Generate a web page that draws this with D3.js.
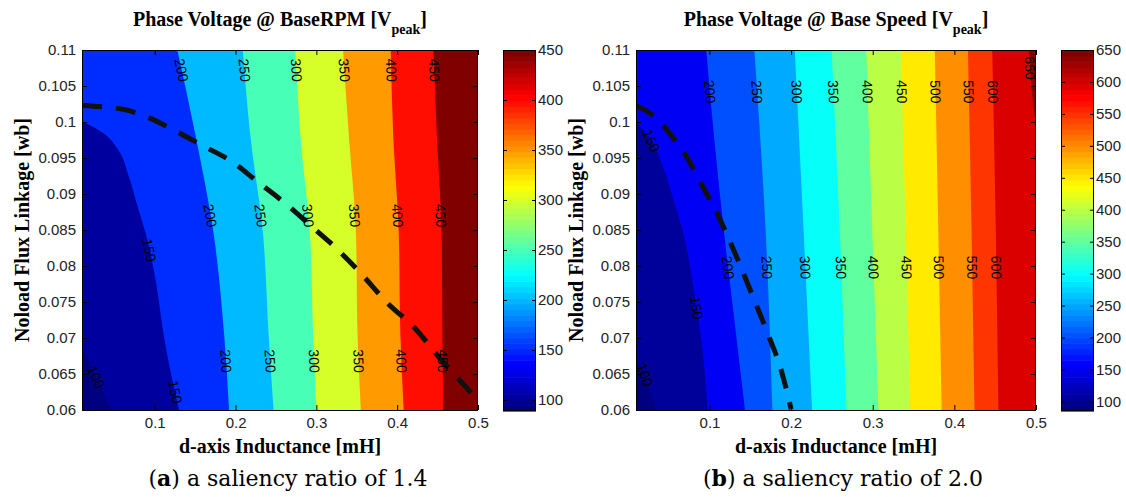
<!DOCTYPE html>
<html>
<head>
<meta charset="utf-8">
<script src="https://cdn.jsdelivr.net/npm/d3@7"></script>
<style>
  body { margin: 0; background: #fff; }
  svg { display: block; }
</style>
</head>
<body>
<svg id="fig" width="1126" height="497"></svg>
<script>
// ---- axis domains and ticks ----
const xDomain = [0.01, 0.5];          // d-axis inductance [mH]
const yDomain = [0.06, 0.11];         // no-load flux linkage [Wb]
const xTicks = [0.1, 0.2, 0.3, 0.4, 0.5];
const yTicks = [0.06, 0.065, 0.07, 0.075, 0.08, 0.085, 0.09, 0.095, 0.1, 0.105, 0.11];

// ---- panel (a): saliency ratio 1.4 ----
const levelsA = [100, 150, 200, 250, 300, 350, 400, 450];
const colorRangeA = [89, 450];
const cbTicksA = [100, 150, 200, 250, 300, 350, 400, 450];
// iso-voltage lines, each ordered from the upper/left boundary downwards: [Ld, psi]
const contoursA = [
  [[0.01, 0.0685], [0.021, 0.0662], [0.032, 0.0635], [0.040, 0.0615], [0.047, 0.06]],
  [[0.01, 0.1001], [0.037, 0.0984], [0.055, 0.0961], [0.068, 0.0924], [0.079, 0.0882], [0.090, 0.0840], [0.101, 0.0781], [0.112, 0.0698], [0.130, 0.06]],
  [[0.128, 0.11], [0.150, 0.0984], [0.173, 0.0844], [0.186, 0.0703], [0.192, 0.06]],
  [[0.209, 0.11], [0.218, 0.0984], [0.234, 0.0844], [0.241, 0.0703], [0.247, 0.06]],
  [[0.274, 0.11], [0.280, 0.0984], [0.292, 0.0844], [0.296, 0.0703], [0.300, 0.06]],
  [[0.333, 0.11], [0.340, 0.0984], [0.349, 0.0844], [0.351, 0.0703], [0.355, 0.06]],
  [[0.392, 0.11], [0.395, 0.0984], [0.402, 0.0844], [0.404, 0.0703], [0.408, 0.06]],
  [[0.445, 0.11], [0.449, 0.0984], [0.455, 0.0844], [0.456, 0.0703], [0.457, 0.06]]
];
// inline contour labels: [level, psi]
const labelsA = [
  [100, 0.0646], [150, 0.0822], [150, 0.0625],
  [200, 0.1072], [250, 0.1072], [300, 0.1072], [350, 0.1072], [400, 0.1072], [450, 0.1072],
  [200, 0.087], [250, 0.087], [300, 0.087], [350, 0.087], [400, 0.087], [450, 0.087],
  [200, 0.0668], [250, 0.0668], [300, 0.0668], [350, 0.0668], [400, 0.0668], [450, 0.0668]
];
// voltage-limit boundary (dashed)
const limitA = [
  [0.01, 0.1023], [0.0637, 0.1017], [0.0924, 0.1006], [0.1233, 0.0989], [0.1596, 0.0967],
  [0.1955, 0.0945], [0.2273, 0.0917], [0.2648, 0.0884], [0.3001, 0.0849], [0.3223, 0.0827],
  [0.3532, 0.0792], [0.3885, 0.0748], [0.4217, 0.0714], [0.4526, 0.0672], [0.4858, 0.0631], [0.5, 0.0613]
];

// ---- panel (b): saliency ratio 2.0 ----
const levelsB = [100, 150, 200, 250, 300, 350, 400, 450, 500, 550, 600, 650];
const colorRangeB = [85, 650];
const cbTicksB = [100, 150, 200, 250, 300, 350, 400, 450, 500, 550, 600, 650];
const contoursB = [
  [[0.01, 0.0675], [0.020, 0.0652], [0.028, 0.0625], [0.034, 0.06]],
  [[0.01, 0.1001], [0.028, 0.0976], [0.043, 0.0938], [0.056, 0.0892], [0.068, 0.0845], [0.081, 0.0767], [0.090, 0.0698], [0.098, 0.06]],
  [[0.096, 0.11], [0.106, 0.0975], [0.118, 0.0845], [0.130, 0.073], [0.1435, 0.06]],
  [[0.155, 0.11], [0.169, 0.0845], [0.177, 0.06]],
  [[0.2045, 0.11], [0.2155, 0.0845], [0.2257, 0.06]],
  [[0.2496, 0.11], [0.2597, 0.0845], [0.2677, 0.06]],
  [[0.292, 0.11], [0.2995, 0.0845], [0.307, 0.06]],
  [[0.3344, 0.11], [0.3406, 0.0845], [0.3459, 0.06]],
  [[0.376, 0.11], [0.3804, 0.0845], [0.3844, 0.06]],
  [[0.4166, 0.11], [0.4211, 0.0845], [0.4246, 0.06]],
  [[0.4464, 0.11], [0.4508, 0.0845], [0.4539, 0.06]],
  [[0.4915, 0.11], [0.4927, 0.1075], [0.4955, 0.1035], [0.5, 0.0995]]
];
const labelsB = [
  [100, 0.0649], [150, 0.0974], [150, 0.0742],
  [200, 0.1042], [250, 0.1042], [300, 0.1042], [350, 0.1042], [400, 0.1042], [450, 0.1042], [500, 0.1042], [550, 0.1042], [600, 0.1042],
  [200, 0.0798], [250, 0.0798], [300, 0.0798], [350, 0.0798], [400, 0.0798], [450, 0.0798], [500, 0.0798], [550, 0.0798], [600, 0.0798],
  [650, 0.1075]
];
const limitB = [
  [0.01, 0.1023], [0.0321, 0.1008], [0.0542, 0.0980], [0.0740, 0.0948], [0.0918, 0.0910],
  [0.1072, 0.0878], [0.1227, 0.0840], [0.1350, 0.0808], [0.1533, 0.0757],
  [0.1711, 0.0707], [0.1889, 0.0651], [0.2, 0.0601]
];

// ---- jet colormap ----
const jetStops = [0, 0.125, 0.375, 0.625, 0.875, 1];
const jetColors = ["#000080", "#0000ff", "#00ffff", "#ffff00", "#ff0000", "#800000"];
const jet = d3.scaleLinear().domain(jetStops).range(jetColors).interpolate(d3.interpolateRgb).clamp(true);

const svg = d3.select("#fig");
const SANS = "'Liberation Sans', Arial, Helvetica, sans-serif";
const SERIF = "'Liberation Serif', 'Times New Roman', serif";
const plotTop = 50, plotBottom = 410;

const panels = [
  { id: "a", left: 82, right: 478, cbLeft: 503, cbRight: 536,
    levels: levelsA, contours: contoursA, labels: labelsA, limit: limitA,
    cRange: colorRangeA, cbTicks: cbTicksA,
    title: "Phase Voltage @ BaseRPM [V", letter: "a", caption: " a saliency ratio of 1.4", capX: 288 },
  { id: "b", left: 636, right: 1036, cbLeft: 1061, cbRight: 1094,
    levels: levelsB, contours: contoursB, labels: labelsB, limit: limitB,
    cRange: colorRangeB, cbTicks: cbTicksB,
    title: "Phase Voltage @ Base Speed [V", letter: "b", caption: " a saliency ratio of 2.0", capX: 843 }
];

const fmt = d3.format("~g");

function styleAxis(sel) {
  sel.select(".domain").remove();
  sel.selectAll(".tick line").attr("stroke", "#000").attr("stroke-width", 1);
  sel.selectAll(".tick text")
    .attr("fill", "#222")
    .style("font-family", SANS)
    .style("font-size", "15px");
}

panels.forEach(p => {
  const x = d3.scaleLinear().domain(xDomain).range([p.left, p.right]);
  const y = d3.scaleLinear().domain(yDomain).range([plotBottom, plotTop]);
  const cNorm = d3.scaleLinear().domain(p.cRange).range([0, 1]).clamp(true);

  const clipId = "clip-" + p.id;
  svg.append("clipPath").attr("id", clipId)
    .append("rect")
    .attr("x", p.left).attr("y", plotTop)
    .attr("width", p.right - p.left).attr("height", plotBottom - plotTop);

  const plot = svg.append("g").attr("clip-path", `url(#${clipId})`);

  // lowest band
  plot.append("rect")
    .attr("x", p.left).attr("y", plotTop)
    .attr("width", p.right - p.left).attr("height", plotBottom - plotTop)
    .attr("fill", jet(0));

  const contourLine = d3.line()
    .x(d => x(d[0])).y(d => y(d[1]))
    .curve(d3.curveMonotoneY);

  // filled bands: each level paints the region on its high-voltage side
  p.levels.forEach((lv, i) => {
    const pts = p.contours[i];
    const start = pts[0], end = pts[pts.length - 1];
    const corners = [];
    if (end[1] <= yDomain[0] + 1e-9) corners.push([xDomain[1], yDomain[0]]);
    corners.push([xDomain[1], yDomain[1]]);
    if (start[0] <= xDomain[0] + 1e-9) corners.push([xDomain[0], yDomain[1]]);
    const d = contourLine(pts) + corners.map(c => `L${x(c[0])},${y(c[1])}`).join("") + "Z";
    plot.append("path").attr("d", d).attr("fill", jet(cNorm(lv)));
  });

  // dashed voltage-limit curve
  plot.append("path")
    .attr("d", d3.line().x(d => x(d[0])).y(d => y(d[1])).curve(d3.curveMonotoneX)(p.limit))
    .attr("fill", "none")
    .attr("stroke", "#111")
    .attr("stroke-width", 5)
    .attr("stroke-dasharray", "20,14");

  // inline contour labels
  p.labels.forEach(([lv, psi]) => {
    const pts = p.contours[p.levels.indexOf(lv)];
    let k = 0;
    while (k < pts.length - 2 && pts[k + 1][1] > psi) k++;
    const a = pts[k], b = pts[k + 1];
    const t = (a[1] - psi) / (a[1] - b[1]);
    const ld = a[0] + t * (b[0] - a[0]);
    const px = x(ld), py = y(psi);
    const ang = Math.atan2(y(b[1]) - y(a[1]), x(b[0]) - x(a[0])) * 180 / Math.PI;
    plot.append("text")
      .attr("transform", `translate(${px},${py}) rotate(${ang})`)
      .attr("text-anchor", "middle")
      .attr("dominant-baseline", "central")
      .style("font-family", SANS)
      .style("font-size", "14px")
      .attr("fill", "#000")
      .text(lv);
  });

  // axes (inward ticks on all four sides)
  svg.append("g").attr("transform", `translate(${p.left},0)`)
    .call(d3.axisLeft(y).tickValues(yTicks).tickFormat(fmt).tickSizeInner(-5).tickSizeOuter(0).tickPadding(6))
    .call(styleAxis);
  svg.append("g").attr("transform", `translate(${p.right},0)`)
    .call(d3.axisRight(y).tickValues(yTicks).tickFormat("").tickSizeInner(-5).tickSizeOuter(0))
    .call(styleAxis);
  svg.append("g").attr("transform", `translate(0,${plotBottom})`)
    .call(d3.axisBottom(x).tickValues(xTicks).tickFormat(fmt).tickSizeInner(-5).tickSizeOuter(0).tickPadding(7))
    .call(styleAxis);
  svg.append("g").attr("transform", `translate(0,${plotTop})`)
    .call(d3.axisTop(x).tickValues(xTicks).tickFormat("").tickSizeInner(-5).tickSizeOuter(0))
    .call(styleAxis);

  svg.append("rect")
    .attr("x", p.left + 0.5).attr("y", plotTop + 0.5)
    .attr("width", p.right - p.left - 1).attr("height", plotBottom - plotTop)
    .attr("fill", "none").attr("stroke", "#000").attr("stroke-width", 1);

  // colorbar
  const cb = d3.scaleLinear().domain(p.cRange).range([plotBottom + 1, plotTop]);
  const nColors = 64;
  const step = (p.cRange[1] - p.cRange[0]) / nColors;
  svg.append("g").selectAll("rect")
    .data(d3.range(nColors))
    .join("rect")
    .attr("x", p.cbLeft)
    .attr("y", i => cb(p.cRange[0] + (i + 1) * step))
    .attr("width", p.cbRight - p.cbLeft)
    .attr("height", i => cb(p.cRange[0] + i * step) - cb(p.cRange[0] + (i + 1) * step) + 0.6)
    .attr("fill", i => jet(i / (nColors - 1)));

  svg.append("g").attr("transform", `translate(${p.cbRight},0)`)
    .call(d3.axisRight(cb).tickValues(p.cbTicks).tickSizeInner(-4).tickSizeOuter(0).tickPadding(2))
    .call(styleAxis);
  svg.append("g").attr("transform", `translate(${p.cbLeft},0)`)
    .call(d3.axisLeft(cb).tickValues(p.cbTicks).tickFormat("").tickSizeInner(-4).tickSizeOuter(0))
    .call(styleAxis);
  svg.append("rect")
    .attr("x", p.cbLeft + 0.5).attr("y", plotTop + 0.5)
    .attr("width", p.cbRight - p.cbLeft - 1).attr("height", plotBottom - plotTop)
    .attr("fill", "none").attr("stroke", "#000").attr("stroke-width", 1);

  // title with subscript
  const cx = (p.left + p.right) / 2;
  const title = svg.append("text")
    .attr("x", cx).attr("y", 26)
    .attr("text-anchor", "middle")
    .style("font-family", SERIF).style("font-weight", "bold").style("font-size", "20px")
    .attr("fill", "#000");
  title.append("tspan").text(p.title);
  title.append("tspan").attr("dy", 8).style("font-size", "14px").text("peak");
  title.append("tspan").attr("dy", -8).text("]");

  // axis labels
  svg.append("text")
    .attr("x", cx).attr("y", 453)
    .attr("text-anchor", "middle")
    .style("font-family", SERIF).style("font-weight", "bold").style("font-size", "20px")
    .text("d-axis Inductance [mH]");
  svg.append("text")
    .attr("transform", `translate(${p.left - 53},${(plotTop + plotBottom) / 2}) rotate(-90)`)
    .attr("text-anchor", "middle")
    .style("font-family", SERIF).style("font-weight", "bold").style("font-size", "20px")
    .text("Noload Flux Linkage [wb]");

  // sub-figure caption
  const cap = svg.append("text")
    .attr("x", p.capX).attr("y", 486)
    .attr("text-anchor", "middle")
    .style("font-family", "'DejaVu Serif', serif").style("font-size", "22px")
    .attr("fill", "#000");
  cap.append("tspan").text("(");
  cap.append("tspan").style("font-weight", "bold").text(p.letter);
  cap.append("tspan").text(")" + p.caption);
});
</script>
</body>
</html>
